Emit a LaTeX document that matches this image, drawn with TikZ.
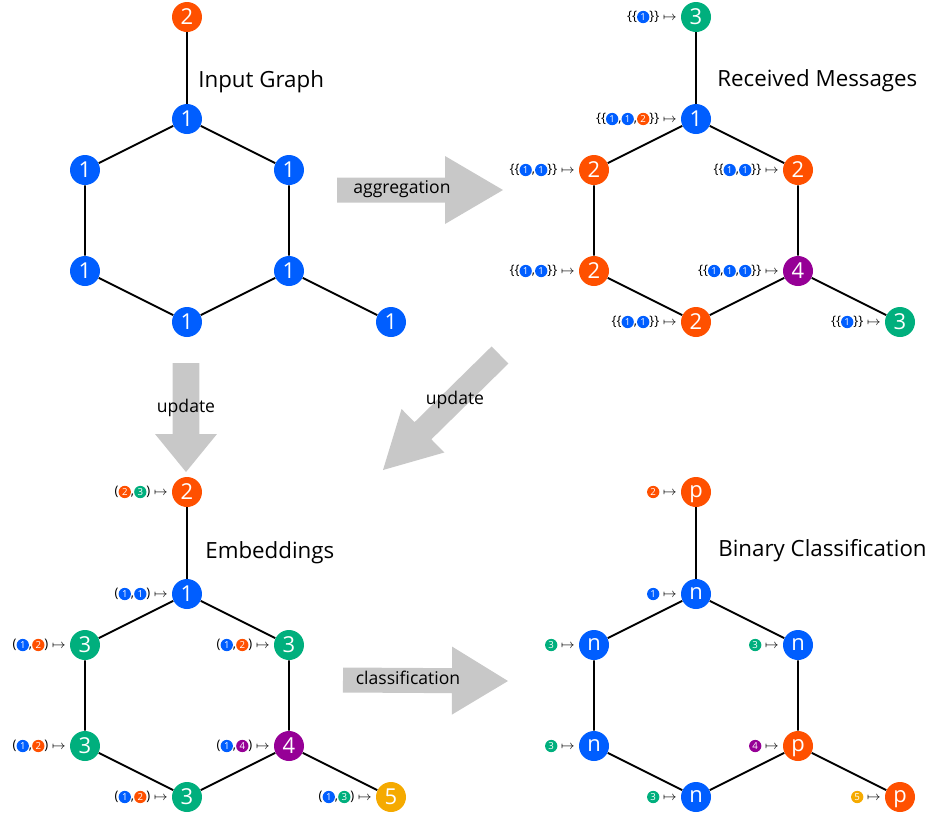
\documentclass[tikz,border=0pt]{standalone}
\usepackage{fontspec}
\setmainfont{Open Sans}
\usetikzlibrary{calc,positioning}

\definecolor{cblue}{RGB}{0,94,255}
\definecolor{corange}{RGB}{255,80,0}
\definecolor{cgreen}{RGB}{0,175,125}
\definecolor{cpurple}{RGB}{150,0,150}
\definecolor{cgold}{RGB}{245,170,0}
\definecolor{agray}{RGB}{200,200,200}

% small coloured dot with a digit, used in the message labels
\newcommand{\sd}[2]{\tikz[baseline=(s.base)] \node[circle, fill=#1, text=white, inner sep=0pt, minimum size=7pt, anchor=center, font=\fontsize{5.5}{6}\selectfont] (s) at (0,0) {#2};}
% fat grey arrow: start, tip, half body, half head, head length
\newcommand{\bigarrow}[5]{%
  \coordinate (h) at ($(#2)!#5!(#1)$);
  \fill[agray] ($(#1)!#3!90:(#2)$) -- ($(h)!#3!90:(#2)$) -- ($(h)!#4!90:(#2)$) -- (#2)
    -- ($(h)!#4!-90:(#2)$) -- ($(h)!#3!-90:(#2)$) -- ($(#1)!#3!-90:(#2)$) -- cycle;}

\begin{document}
\begin{tikzpicture}[x=0.02cm, y=-0.02cm,
    vert/.style={circle, fill=#1, text=white, inner sep=0pt, minimum size=0.6cm, text depth=0pt, font=\fontsize{12.5}{15}\selectfont},
    msg/.style={inner sep=0.5pt, font=\fontsize{7.5}{9}\selectfont},
    title/.style={anchor=base west, inner sep=0pt, font=\fontsize{12.7}{15}\selectfont},
    arrtext/.style={font=\fontsize{10}{12}\selectfont},
    edge/.style={line width=1.1pt}]
    \useasboundingbox (0,0) rectangle (930,819);

    % grey arrows between the four stages
    \coordinate (aggS) at (337,190);
    \coordinate (aggE) at (503,190);
    \coordinate (upaS) at (186,363);
    \coordinate (upaE) at (186,472);
    \coordinate (upbS) at (500,355);
    \coordinate (upbE) at (383,470);
    \coordinate (clsS) at (343,680);
    \coordinate (clsE) at (508,681);
    \bigarrow{aggS}{aggE}{0.25cm}{0.68cm}{1.16cm}
    \bigarrow{upaS}{upaE}{0.27cm}{0.62cm}{0.76cm}
    \bigarrow{upbS}{upbE}{0.24cm}{0.61cm}{1.12cm}
    \bigarrow{clsS}{clsE}{0.25cm}{0.68cm}{1.12cm}
    \node [arrtext] (aggT) at (402,189) {aggregation};
    \node [arrtext] (upaT) at (186,408) {update};
    \node [arrtext] (upbT) at (455,400) {update};
    \node [arrtext] (clsT) at (408,678) {classification};

    % input graph
    \node [vert=corange] (i0) at (187,17) {2};
    \node [vert=cblue] (i1) at (187,119) {1};
    \node [vert=cblue] (i2) at (85,170) {1};
    \node [vert=cblue] (i3) at (289,170) {1};
    \node [vert=cblue] (i4) at (85,271) {1};
    \node [vert=cblue] (i5) at (289,271) {1};
    \node [vert=cblue] (i6) at (187,322) {1};
    \node [vert=cblue] (i7) at (391,322) {1};
    \node [title] (iT) at (198,87) {Input Graph};
    \draw[edge] (i0) -- (i1);
    \draw[edge] (i1) -- (i2) -- (i4) -- (i6) -- (i5) -- (i3) -- (i1);
    \draw[edge] (i5) -- (i7);

    % received messages
    \begin{scope}[shift={(509,0)}]
    \node [vert=cgreen] (r0) at (187,17) {3};
    \node [vert=cblue] (r1) at (187,119) {1};
    \node [vert=corange] (r2) at (85,170) {2};
    \node [vert=corange] (r3) at (289,170) {2};
    \node [vert=corange] (r4) at (85,271) {2};
    \node [vert=cpurple] (r5) at (289,271) {4};
    \node [vert=corange] (r6) at (187,322) {2};
    \node [vert=cgreen] (r7) at (391,322) {3};
    \node [title] (rT) at (208,86) {Received Messages};
    \node [msg, left=1.5pt of r0] (mr0) {\{\{\sd{cblue}{1}\}\} $\mapsto$};
    \node [msg, left=1.5pt of r1] (mr1) {\{\{\sd{cblue}{1},\sd{cblue}{1},\sd{corange}{2}\}\} $\mapsto$};
    \node [msg, left=1.5pt of r2] (mr2) {\{\{\sd{cblue}{1},\sd{cblue}{1}\}\} $\mapsto$};
    \node [msg, left=1.5pt of r3] (mr3) {\{\{\sd{cblue}{1},\sd{cblue}{1}\}\} $\mapsto$};
    \node [msg, left=1.5pt of r4] (mr4) {\{\{\sd{cblue}{1},\sd{cblue}{1}\}\} $\mapsto$};
    \node [msg, left=1.5pt of r5] (mr5) {\{\{\sd{cblue}{1},\sd{cblue}{1},\sd{cblue}{1}\}\} $\mapsto$};
    \node [msg, left=1.5pt of r6] (mr6) {\{\{\sd{cblue}{1},\sd{cblue}{1}\}\} $\mapsto$};
    \node [msg, left=1.5pt of r7] (mr7) {\{\{\sd{cblue}{1}\}\} $\mapsto$};
    \draw[edge] (r0) -- (r1);
    \draw[edge] (r1) -- (r2) -- (r4) -- (r6) -- (r5) -- (r3) -- (r1);
    \draw[edge] (r5) -- (r7);
    \end{scope}

    % embeddings
    \begin{scope}[shift={(0,475)}]
    \node [vert=corange] (e0) at (187,17) {2};
    \node [vert=cblue] (e1) at (187,119) {1};
    \node [vert=cgreen] (e2) at (85,170) {3};
    \node [vert=cgreen] (e3) at (289,170) {3};
    \node [vert=cgreen] (e4) at (85,271) {3};
    \node [vert=cpurple] (e5) at (289,271) {4};
    \node [vert=cgreen] (e6) at (187,322) {3};
    \node [vert=cgold] (e7) at (391,322) {5};
    \node [title] (eT) at (205,83) {Embeddings};
    \node [msg, left=1.5pt of e0] (me0) {(\sd{corange}{2},\sd{cgreen}{3}) $\mapsto$};
    \node [msg, left=1.5pt of e1] (me1) {(\sd{cblue}{1},\sd{cblue}{1}) $\mapsto$};
    \node [msg, left=1.5pt of e2] (me2) {(\sd{cblue}{1},\sd{corange}{2}) $\mapsto$};
    \node [msg, left=1.5pt of e3] (me3) {(\sd{cblue}{1},\sd{corange}{2}) $\mapsto$};
    \node [msg, left=1.5pt of e4] (me4) {(\sd{cblue}{1},\sd{corange}{2}) $\mapsto$};
    \node [msg, left=1.5pt of e5] (me5) {(\sd{cblue}{1},\sd{cpurple}{4}) $\mapsto$};
    \node [msg, left=1.5pt of e6] (me6) {(\sd{cblue}{1},\sd{corange}{2}) $\mapsto$};
    \node [msg, left=1.5pt of e7] (me7) {(\sd{cblue}{1},\sd{cgreen}{3}) $\mapsto$};
    \draw[edge] (e0) -- (e1);
    \draw[edge] (e1) -- (e2) -- (e4) -- (e6) -- (e5) -- (e3) -- (e1);
    \draw[edge] (e5) -- (e7);
    \end{scope}

    % binary classification
    \begin{scope}[shift={(509,475)}]
    \node [vert=corange] (c0) at (187,17) {p};
    \node [vert=cblue] (c1) at (187,119) {n};
    \node [vert=cblue] (c2) at (85,170) {n};
    \node [vert=cblue] (c3) at (289,170) {n};
    \node [vert=cblue] (c4) at (85,271) {n};
    \node [vert=corange] (c5) at (289,271) {p};
    \node [vert=cblue] (c6) at (187,322) {n};
    \node [vert=corange] (c7) at (391,322) {p};
    \node [title] (cT) at (209,81) {Binary Classification};
    \node [msg, left=1.5pt of c0] (mc0) {\sd{corange}{2} $\mapsto$};
    \node [msg, left=1.5pt of c1] (mc1) {\sd{cblue}{1} $\mapsto$};
    \node [msg, left=1.5pt of c2] (mc2) {\sd{cgreen}{3} $\mapsto$};
    \node [msg, left=1.5pt of c3] (mc3) {\sd{cgreen}{3} $\mapsto$};
    \node [msg, left=1.5pt of c4] (mc4) {\sd{cgreen}{3} $\mapsto$};
    \node [msg, left=1.5pt of c5] (mc5) {\sd{cpurple}{4} $\mapsto$};
    \node [msg, left=1.5pt of c6] (mc6) {\sd{cgreen}{3} $\mapsto$};
    \node [msg, left=1.5pt of c7] (mc7) {\sd{cgold}{5} $\mapsto$};
    \draw[edge] (c0) -- (c1);
    \draw[edge] (c1) -- (c2) -- (c4) -- (c6) -- (c5) -- (c3) -- (c1);
    \draw[edge] (c5) -- (c7);
    \end{scope}
\end{tikzpicture}
\end{document}
